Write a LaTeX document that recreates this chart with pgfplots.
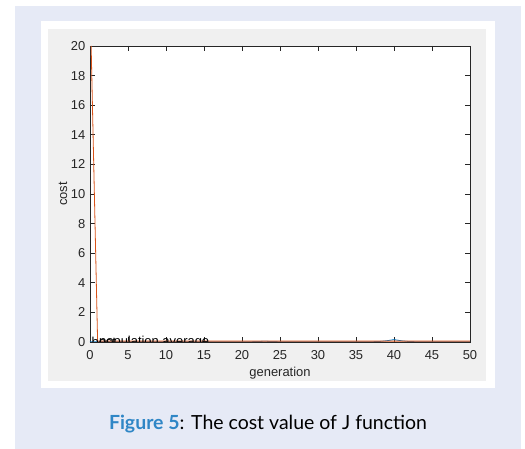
\documentclass[border=0pt]{standalone}
\usepackage{pgfplots}
\pgfplotsset{compat=1.18}
\usepackage{fontspec}
\setmainfont{Liberation Sans}
\newfontfamily\capfont{Lato}
\definecolor{panel}{RGB}{230,234,246}
\definecolor{figgray}{RGB}{240,240,240}
\definecolor{mblue}{rgb}{0,0.447,0.741}
\definecolor{morange}{rgb}{0.85,0.325,0.098}
\definecolor{axgray}{rgb}{0.15,0.15,0.15}
\definecolor{capblue}{RGB}{47,134,198}
% pixel -> pt, axis south west corner at pixel (90,342)
\newcommand\px[2]{({(#1-90)*0.75pt},{(342-#2)*0.75pt})}
\begin{document}
\begin{tikzpicture}
\path[use as bounding box] \px{0}{0} rectangle \px{525}{449};
\fill[panel] \px{15}{6} rectangle \px{521}{449};
\fill[white] \px{41}{21} rectangle \px{495}{388};
\fill[figgray] \px{48}{29} rectangle \px{486}{381};
\node[font=\capfont\fontsize{14.6}{17}\selectfont, anchor=center] at \px{268}{424}
  {\textcolor{capblue}{\bfseries Figure 5}: The cost value of J function};
\begin{axis}[
  scale only axis,
  width=285pt, height=222pt,
  xmin=0, xmax=50, ymin=0, ymax=20,
  xtick={0,5,...,50}, ytick={0,2,...,20},
  tick align=inside,
  major tick length=3.5pt,
  axis background/.style={fill=white},
  axis line style={axgray, line width=0.5pt},
  every tick/.style={axgray, line width=0.5pt},
  tick label style={font=\fontsize{9.7}{11}\selectfont, text=axgray},
  xticklabel style={yshift=-3pt},
  /pgf/number format/assume math mode=true,
  xlabel={generation}, ylabel={cost},
  label style={font=\fontsize{9.7}{11}\selectfont, text=axgray},
  xlabel style={at={(axis description cs:0.5,-0.105)}, anchor=center},
  ylabel style={at={(axis description cs:-0.071,0.5)}, anchor=center},
  clip=true,
]
\addplot[color=mblue, line width=0.6pt] coordinates {
(0,0.02) (1,0.02) (2,0.02) (3,0.02) (4,0.02) (5,0.02) (6,0.02) (7,0.02) (8,0.02) (9,0.02)
(10,0.02) (11,0.02) (12,0.02) (13,0.02) (14,0.02) (15,0.02) (16,0.02) (17,0.02) (18,0.02) (19,0.02)
(20,0.02) (21,0.02) (22,0.03) (23,0.05) (24,0.03) (25,0.02) (26,0.02) (27,0.02) (28,0.02) (29,0.02)
(30,0.02) (31,0.02) (32,0.02) (33,0.02) (34,0.02) (35,0.02) (36,0.02) (37,0.02) (38,0.03) (39,0.08)
(40,0.16) (41,0.08) (42,0.03) (43,0.02) (44,0.02) (45,0.02) (46,0.02) (47,0.02) (48,0.02) (49,0.02) (50,0.02)
};
\addplot[color=morange, line width=0.6pt] coordinates {
(0.15,20) (1,0.06) (2,0.06) (3,0.06) (4,0.06) (5,0.06) (6,0.06) (7,0.06) (8,0.06) (9,0.06)
(10,0.06) (11,0.06) (12,0.06) (13,0.06) (14,0.06) (15,0.06) (16,0.06) (17,0.06) (18,0.06) (19,0.06)
(20,0.06) (21,0.06) (22,0.06) (23,0.06) (24,0.06) (25,0.06) (26,0.06) (27,0.06) (28,0.06) (29,0.06)
(30,0.06) (31,0.06) (32,0.06) (33,0.06) (34,0.06) (35,0.06) (36,0.06) (37,0.06) (38,0.06) (39,0.06)
(40,0.06) (41,0.06) (42,0.06) (43,0.06) (44,0.06) (45,0.06) (46,0.06) (47,0.06) (48,0.06) (49,0.06) (50,0.06)
};
\node[anchor=west, inner sep=1pt, font=\fontsize{9.7}{11}\selectfont] at (axis cs:0,0) {best};
\node[anchor=west, inner sep=1pt, font=\fontsize{9.7}{11}\selectfont] at (axis cs:1,0) {population average};
\end{axis}
\end{tikzpicture}
\end{document}
